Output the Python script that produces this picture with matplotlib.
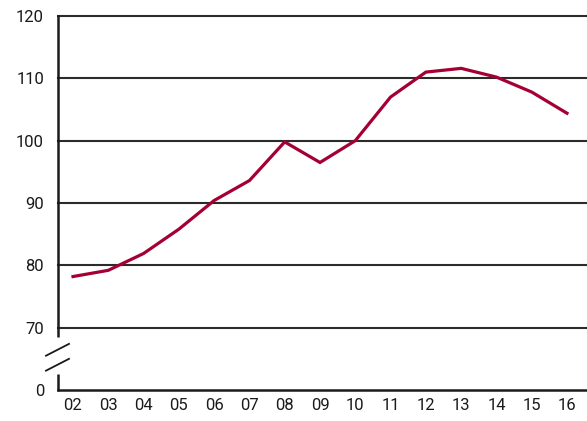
import matplotlib
matplotlib.use("Agg")
import matplotlib.pyplot as plt
import matplotlib.transforms as mtransforms

years = ["02", "03", "04", "05", "06", "07", "08", "09", "10", "11", "12", "13", "14", "15", "16"]
values = [78.2, 79.2, 81.9, 85.8, 90.4, 93.6, 99.8, 96.5, 100.0, 107.0, 111.0, 111.6, 110.2, 107.8, 104.4]
ytick_vals = [60, 70, 80, 90, 100, 110, 120]
ytick_labels = ["0", "70", "80", "90", "100", "110", "120"]

plt.rcParams['font.family'] = ['Roboto', 'DejaVu Sans']

fig = plt.figure(figsize=(5.87, 4.21), dpi=100)
ax = fig.add_axes([58/587, 1-390/421, 1-58/587, (390-16)/421])

xs = [int(y) for y in years]
ax.plot(xs, values, color='#A50034', lw=2.3, solid_joinstyle='miter', zorder=3)

ax.set_ylim(60, 120)
ax.set_xlim(2 - 15/35.29, 16 + 20/35.29)
ax.set_yticks(ytick_vals)
ax.set_yticklabels(ytick_labels)
ax.set_xticks(xs)
ax.set_xticklabels(years)
ax.tick_params(axis='both', length=0, labelsize=12, colors='#1a1a1a')
ax.tick_params(axis='y', pad=10)
ax.tick_params(axis='x', pad=6)

for v in ytick_vals[1:]:
    ax.axhline(v, color='#2b2b2b', lw=1.5, zorder=1, clip_on=False)

for s in ['top', 'right', 'left']:
    ax.spines[s].set_visible(False)
ax.spines['bottom'].set_color('#1a1a1a')
ax.spines['bottom'].set_linewidth(1.8)

trans = mtransforms.blended_transform_factory(ax.transAxes, ax.transData)
ax.plot([0, 0], [68.5, 120.1], color='#1a1a1a', lw=1.8, transform=trans, clip_on=False, solid_capstyle='butt')
ax.plot([0, 0], [59.85, 62.5], color='#1a1a1a', lw=1.8, transform=trans, clip_on=False, solid_capstyle='butt')
ax.plot([-0.0227, 0.0208], [65.5, 67.4], color='#1a1a1a', lw=1.3, transform=trans, clip_on=False)
ax.plot([-0.0227, 0.0208], [63.1, 65.0], color='#1a1a1a', lw=1.3, transform=trans, clip_on=False)

fig.savefig("out.png", dpi=100)
